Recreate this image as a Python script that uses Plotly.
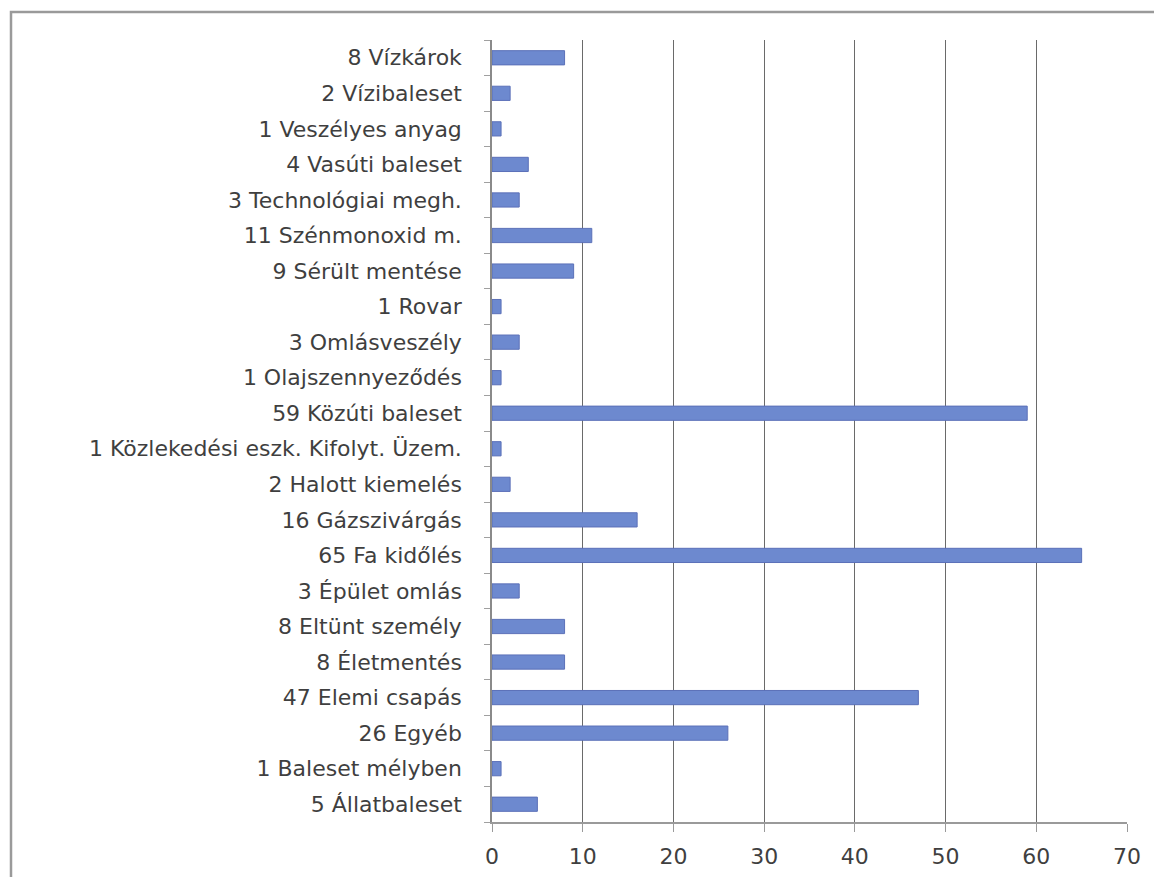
import plotly.graph_objects as go

categories = [
    "5 Állatbaleset",
    "1 Baleset mélyben",
    "26 Egyéb",
    "47 Elemi csapás",
    "8 Életmentés",
    "8 Eltünt személy",
    "3 Épület omlás",
    "65 Fa kidőlés",
    "16 Gázszivárgás",
    "2 Halott kiemelés",
    "1 Közlekedési eszk. Kifolyt. Üzem.",
    "59 Közúti baleset",
    "1 Olajszennyeződés",
    "3 Omlásveszély",
    "1 Rovar",
    "9 Sérült mentése",
    "11 Szénmonoxid m.",
    "3 Technológiai megh.",
    "4 Vasúti baleset",
    "1 Veszélyes anyag",
    "2 Vízibaleset",
    "8 Vízkárok",
]
values = [5, 1, 26, 47, 8, 8, 3, 65, 16, 2, 1, 59, 1, 3, 1, 9, 11, 3, 4, 1, 2, 8]
x_ticks = [0, 10, 20, 30, 40, 50, 60, 70]

L, R, T, B = 484, 43, 32, 63
W, H = 1162, 877
pw, ph = W - L - R, H - T - B

fig = go.Figure(go.Bar(
    y=categories, x=values, orientation="h",
    marker=dict(color="#6d89cf", line=dict(color="#5b70b8", width=1)),
))

font = dict(family="DejaVu Sans, Open Sans, sans-serif", size=22, color="#3f3f3f")

fig.update_layout(
    width=W, height=H,
    margin=dict(l=L, r=R, t=T, b=B),
    paper_bgcolor="white", plot_bgcolor="white",
    showlegend=False, bargap=0.6, font=font,
    shapes=[dict(type="rect", xref="paper", yref="paper",
                 x0=(10 - 491) / pw, x1=1.3, y0=-0.3, y1=1 + 28 / ph,
                 line=dict(color="#9a9a9a", width=2.5), layer="below")],
)
fig.update_xaxes(
    range=[0, 70], tickvals=x_ticks, showgrid=True, gridcolor="#6a6a6a", gridwidth=1,
    showline=True, linecolor="#9a9a9a", linewidth=1.5,
    ticks="outside", ticklen=8, tickcolor="#9a9a9a", ticklabelstandoff=6,
    zeroline=False, tickfont=dict(size=22, color="#3f3f3f"),
)
fig.update_yaxes(
    categoryorder="array", categoryarray=categories, range=[-0.5, 21.5],
    showline=True, linecolor="#8a8a8a", linewidth=1.5,
    ticks="outside", ticklen=6, tickcolor="#a0a0a0", tickson="boundaries",
    showgrid=False, tickfont=dict(size=22, color="#3f3f3f"), ticklabelstandoff=24,
)

fig.write_html("out.html")
